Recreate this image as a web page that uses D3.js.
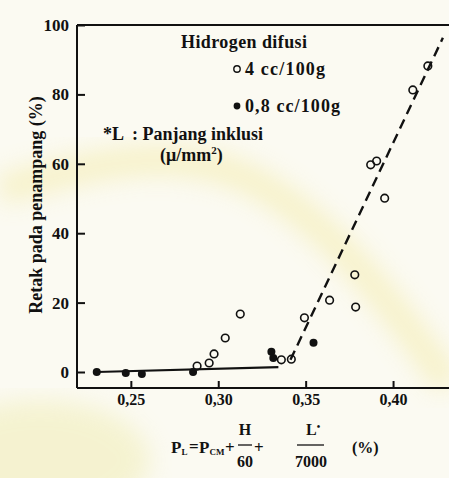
<!DOCTYPE html>
<html>
<head>
<meta charset="utf-8">
<script src="https://cdn.jsdelivr.net/npm/d3@7"></script>
<style>
  body { margin: 0; background: #fbfaf2; }
  svg { display: block; }
  text { font-family: "Liberation Serif", "Times New Roman", "DejaVu Serif", serif; font-weight: bold; fill: #111; }
</style>
</head>
<body>
<div id="container"></div>
<script>
// values
let yTicks = [0, 20, 40, 60, 80, 100];
let xTicks = [0.25, 0.30, 0.35, 0.40];

// open circles: hidrogen difusi 4 cc/100g
let openPts = [
  [0.2879, 1.7], [0.2948, 2.6], [0.2976, 5.2], [0.3040, 9.8], [0.3126, 16.7],
  [0.3361, 3.5], [0.3418, 3.7], [0.3493, 15.6], [0.3637, 20.7], [0.3786, 18.7],
  [0.3781, 28.0], [0.3872, 59.7], [0.3906, 60.8], [0.3952, 50.1], [0.4113, 81.3],
  [0.4199, 88.2]
];
// filled dots: 0,8 cc/100g
let filledPts = [
  [0.2305, 0], [0.2471, -0.3], [0.2563, -0.6], [0.2856, 0],
  [0.3304, 5.8], [0.3315, 4.0], [0.3545, 8.4]
];
// fitted lines
let solidLine = [[0.2305, 0], [0.3344, 1.4]];
let dashedLine = [[0.3413, 3.5], [0.4285, 96.3]];

let w = 449;
let h = 478;
let padL = 77, padR = 449, padT = 25, padB = 388;

let viz = d3.select("#container")
  .append("svg")
    .attr("width", w)
    .attr("height", h);

// faint yellow stain of the scan
let defs = viz.append("defs");
defs.append("filter").attr("id", "blur")
  .append("feGaussianBlur").attr("stdDeviation", 12);
viz.append("path")
  .attr("d", "M0,190 C90,165 180,140 260,185 C330,225 390,300 449,385")
  .attr("fill", "none")
  .attr("stroke", "#f2e89a")
  .attr("stroke-width", 30)
  .attr("opacity", 0.45)
  .attr("filter", "url(#blur)");
viz.append("ellipse")
  .attr("cx", 40).attr("cy", 460).attr("rx", 110).attr("ry", 60)
  .attr("fill", "#eeeaa8").attr("opacity", 0.45)
  .attr("filter", "url(#blur)");

let xScale = d3.scaleLinear().domain([0.2192, 0.4320]).range([padL, padR]);
let yScale = d3.scaleLinear().domain([0, 100]).range([372, 25]);

let comma = d3.formatLocale({decimal: ",", thousands: ".", grouping: [3], currency: ["", ""]});

// frame top line
viz.append("line")
  .attr("x1", padL).attr("x2", padR).attr("y1", padT).attr("y2", padT)
  .attr("stroke", "#111").attr("stroke-width", 2);

let yAxis = d3.axisLeft(yScale).tickValues(yTicks)
  .tickSizeInner(-8).tickSizeOuter(0).tickPadding(8);
let yAxisGroup = viz.append("g")
  .attr("transform", "translate(" + padL + ",0)")
  .call(yAxis);
yAxisGroup.select(".domain").attr("d", "M0," + padT + "V" + padB);

let xAxis = d3.axisBottom(xScale).tickValues(xTicks)
  .tickFormat(comma.format(".2f"))
  .tickSizeInner(-7).tickSizeOuter(0).tickPadding(6);
let xAxisGroup = viz.append("g")
  .attr("transform", "translate(0," + padB + ")")
  .call(xAxis);
xAxisGroup.select(".domain").attr("d", "M" + padL + ",0H" + padR);

viz.selectAll(".domain").attr("stroke", "#111").attr("stroke-width", 2);
viz.selectAll(".tick line").attr("stroke", "#111").attr("stroke-width", 2);
viz.selectAll(".tick text")
  .style("font-family", "Liberation Serif, Times New Roman, serif")
  .style("font-weight", "bold")
  .attr("fill", "#111");
yAxisGroup.selectAll(".tick text").style("font-size", "17px");
xAxisGroup.selectAll(".tick text").style("font-size", "16px");

// lines
let lineMaker = d3.line().x(d => xScale(d[0])).y(d => yScale(d[1]));
viz.append("path")
  .datum(solidLine)
  .attr("d", lineMaker)
  .attr("fill", "none").attr("stroke", "#111").attr("stroke-width", 2.2);
viz.append("path")
  .datum(dashedLine)
  .attr("d", lineMaker)
  .attr("fill", "none").attr("stroke", "#111").attr("stroke-width", 2.4)
  .attr("stroke-dasharray", "10,6");

// points
viz.selectAll(".open").data(openPts).enter()
  .append("circle").attr("class", "open")
  .attr("cx", d => xScale(d[0])).attr("cy", d => yScale(d[1]))
  .attr("r", 3.8)
  .attr("fill", "none").attr("stroke", "#111").attr("stroke-width", 1.6);
viz.selectAll(".filled").data(filledPts).enter()
  .append("circle").attr("class", "filled")
  .attr("cx", d => xScale(d[0])).attr("cy", d => yScale(d[1]))
  .attr("r", 4)
  .attr("fill", "#111");

// legend
function label(x, y, size, len, txt) {
  return viz.append("text").attr("x", x).attr("y", y)
    .style("font-size", size + "px")
    .attr("textLength", len).attr("lengthAdjust", "spacing")
    .text(txt);
}
label(181, 48, 18, 126, "Hidrogen difusi");
viz.append("circle").attr("cx", 237).attr("cy", 69).attr("r", 3.2)
  .attr("fill", "none").attr("stroke", "#111").attr("stroke-width", 1.4);
label(245, 75, 18, 80, "4 cc/100g");
viz.append("circle").attr("cx", 237).attr("cy", 106).attr("r", 3.4).attr("fill", "#111");
label(245, 112, 18, 95, "0,8 cc/100g");
viz.append("text").attr("x", 103).attr("y", 140).style("font-size", "18px")
  .attr("xml:space", "preserve").text("*L  : Panjang inklusi");
let unit = viz.append("text").attr("x", 160).attr("y", 161).style("font-size", "18px");
unit.append("tspan").text("(\u03bc/mm");
unit.append("tspan").attr("dy", -7).style("font-size", "11px").text("2");
unit.append("tspan").attr("dy", 7).text(")");

// y axis title
viz.append("text")
  .attr("transform", "translate(42,205) rotate(-90)")
  .attr("text-anchor", "middle")
  .style("font-size", "18px")
  .text("Retak pada penampang (%)");

// x axis title: P_L = P_CM + H/60 + L*/7000 (%)
let f = viz.append("g").style("font-size", "16px");
let pl = f.append("text").attr("x", 171).attr("y", 453).style("font-size", "17px");
pl.append("tspan").text("P");
pl.append("tspan").attr("dy", 2).style("font-size", "9px").text("L");
f.append("text").attr("x", 189).attr("y", 452).style("font-size", "17px").text("=");
let pcm = f.append("text").attr("x", 199).attr("y", 453).style("font-size", "17px");
pcm.append("tspan").text("P");
pcm.append("tspan").attr("dy", 2).style("font-size", "9px").text("CM");
f.append("text").attr("x", 225).attr("y", 453).style("font-size", "17px").text("+");
f.append("text").attr("x", 245).attr("y", 435).attr("text-anchor", "middle").text("H");
f.append("line").attr("x1", 238).attr("x2", 252).attr("y1", 445).attr("y2", 445)
  .attr("stroke", "#111").attr("stroke-width", 1.3);
f.append("text").attr("x", 245).attr("y", 467).attr("text-anchor", "middle").text("60");
f.append("text").attr("x", 254).attr("y", 453).style("font-size", "17px").text("+");
let lt = f.append("text").attr("x", 306).attr("y", 435);
lt.append("tspan").text("L");
lt.append("tspan").attr("dy", -5).style("font-size", "10px").text("\u2022");
f.append("line").attr("x1", 297).attr("x2", 324).attr("y1", 445).attr("y2", 445)
  .attr("stroke", "#111").attr("stroke-width", 1.3);
f.append("text").attr("x", 311).attr("y", 467).attr("text-anchor", "middle").text("7000");
f.append("text").attr("x", 352).attr("y", 453).text("(%)");
</script>
</body>
</html>
